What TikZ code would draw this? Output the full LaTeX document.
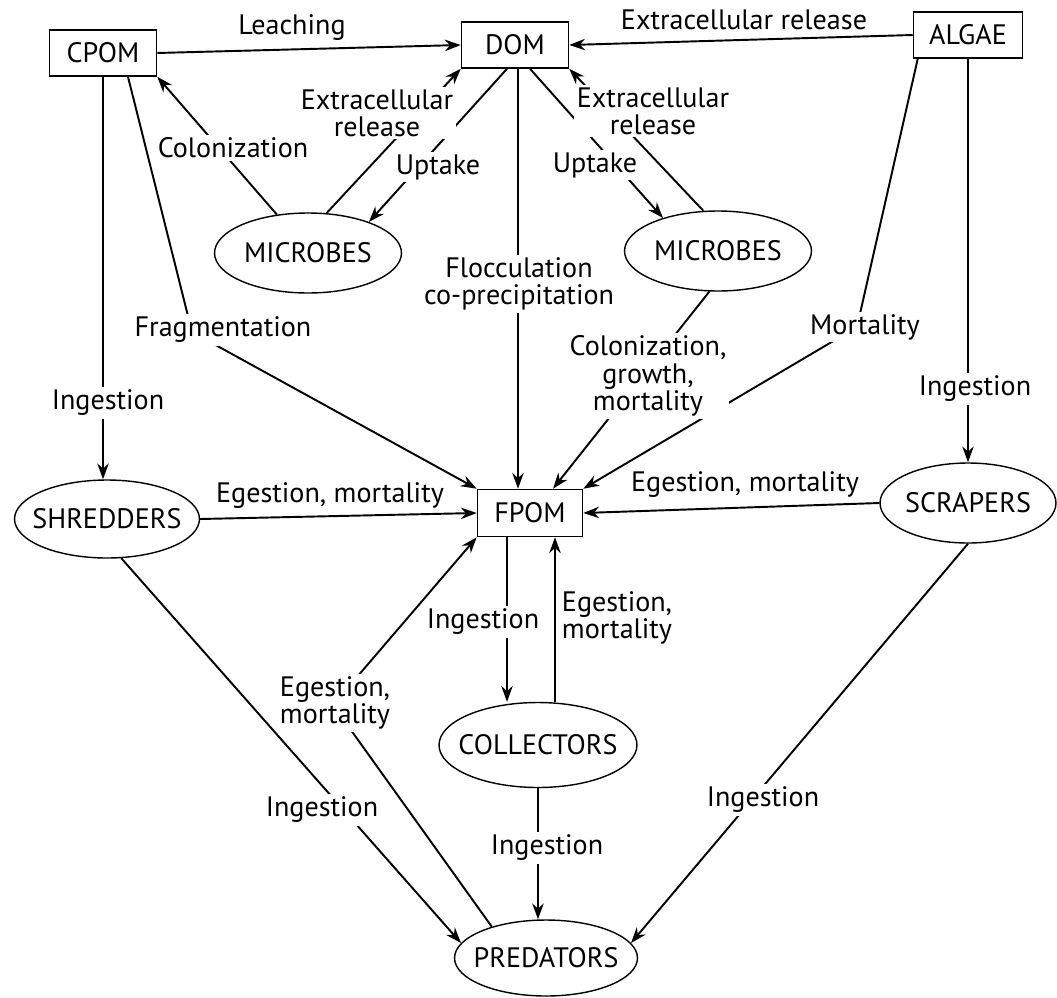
\documentclass[tikz,border=0pt]{standalone}
\usepackage{fontspec}
\setmainfont{PT Sans}
\usetikzlibrary{shapes.geometric,arrows.meta}
\tikzset{
  pool/.style={draw, line width=0.9pt, fill=white, minimum width=2.14cm, minimum height=0.92cm, inner sep=2pt},
  biota/.style={draw, ellipse, line width=0.8pt, fill=white, inner sep=0pt},
  flow/.style={line width=1.1pt, -{Stealth[length=9pt,width=6.5pt]}},
  lbl/.style={fill=white, inner sep=1.5pt, align=center}
}
\newcommand{\orgname}[1]{\makebox[0pt]{#1}}
\begin{document}
\begin{tikzpicture}[x=0.02cm,y=-0.02cm,font=\fontsize{16}{15.5}\selectfont]
\useasboundingbox (0,0) rectangle (1057,997);
% pools and organisms
\node[pool] (cpom) at (103,53) {CPOM};
\node[pool] (dom) at (515,45) {DOM};
\node[pool, minimum width=2.18cm] (algae) at (968,35) {ALGAE};
\node[pool, minimum width=2.1cm, minimum height=0.94cm] (fpom) at (530,513) {FPOM};
\node[biota, minimum width=3.74cm, minimum height=1.6cm] (micl) at (308,253) {\orgname{MICROBES}};
\node[biota, minimum width=3.74cm, minimum height=1.6cm] (micr) at (718,251) {\orgname{MICROBES}};
\node[biota, minimum width=3.7cm, minimum height=1.56cm] (shred) at (107,519) {\orgname{SHREDDERS}};
\node[biota, minimum width=3.52cm, minimum height=1.6cm] (scrap) at (968,503) {\orgname{SCRAPERS}};
\node[biota, minimum width=3.96cm, minimum height=1.7cm] (coll) at (538,745) {\orgname{COLLECTORS}};
\node[biota, minimum width=3.66cm, minimum height=1.52cm] (pred) at (546,958) {\orgname{PREDATORS}};
\coordinate (fragbend) at (192,332);
\coordinate (mortbend) at (857,327);
\coordinate (egbend) at (333,705);
% fluxes
\draw[flow] (cpom.east) -- (dom.west);
\draw[flow] (algae.west) -- (dom.east);
\draw[flow] (micl.129) -- (cpom.south east);
\draw[flow] (micl.65) -- (dom.south west);
\draw[flow] ([xshift=-0.16cm]dom.south) -- (micl.27);
\draw[flow] ([xshift=0.3cm]dom.south) -- (micr.149);
\draw[flow] (micr.110) -- (dom.south east);
\draw[flow] ([xshift=0.06cm]dom.south) -- ([xshift=0.06cm]dom.south |- fpom.north);
\draw[flow] ([xshift=0.5cm]cpom.south) -- (fragbend) -- (fpom.north west);
\draw[flow] (cpom.south) -- (cpom.south |- shred.north);
\draw[flow] (micr.-102) -- ([xshift=0.46cm]fpom.north);
\draw[flow] ([xshift=0.1cm]algae.south west) -- (mortbend) -- (fpom.north east);
\draw[flow] (algae.south) -- (algae.south |- scrap.north);
\draw[flow] (shred.east) -- (fpom.west);
\draw[flow] (scrap.west) -- (fpom.east);
\draw[flow] ([xshift=-0.46cm]fpom.south) -- ([xshift=-0.46cm]fpom.south |- coll.north);
\draw[flow] ([xshift=0.5cm]fpom.south |- coll.north) -- ([xshift=0.5cm]fpom.south);
\draw[flow] (pred.150) -- (egbend) -- (fpom.south west);
\draw[flow] (shred.-70) -- (pred.170);
\draw[flow] (coll.south) -- (coll.south |- pred.north);
\draw[flow] (scrap.south) -- (pred.10);
% labels
\node[lbl] (lleach) at (292,28) {Leaching};
\node[lbl] (lexalg) at (744,20) {Extracellular release};
\node[lbl] (lcol) at (233,148) {Colonization};
\node[lbl] (lexl) at (377,113) {Extracellular\\release};
\node[lbl] (lupl) at (438,167) {Uptake};
\node[lbl] (lupr) at (595,165) {Uptake};
\node[lbl] (lexr) at (653,111) {Extracellular\\release};
\node[lbl] (lfloc) at (519,284) {Flocculation\\co-precipitation};
\node[lbl] (lfrag) at (223,330) {Fragmentation};
\node[lbl] (lcgm) at (648,376) {Colonization,\\growth,\\mortality};
\node[lbl] (lmort) at (865,327) {Mortality};
\node[lbl] (lingsh) at (108,403) {Ingestion};
\node[lbl] (lingsc) at (975,389) {Ingestion};
\node[lbl] (legsh) at (330,496) {Egestion, mortality};
\node[lbl] (legsc) at (745,485) {Egestion, mortality};
\node[lbl] (lingco) at (483,622) {Ingestion};
\node[lbl] (legco) at (617,618) {Egestion,\\mortality};
\node[lbl] (legpr) at (335,703) {Egestion,\\mortality};
\node[lbl] (lingshp) at (322,810) {Ingestion};
\node[lbl] (lingcop) at (547,848) {Ingestion};
\node[lbl] (lingscp) at (763,800) {Ingestion};
\end{tikzpicture}
\end{document}
